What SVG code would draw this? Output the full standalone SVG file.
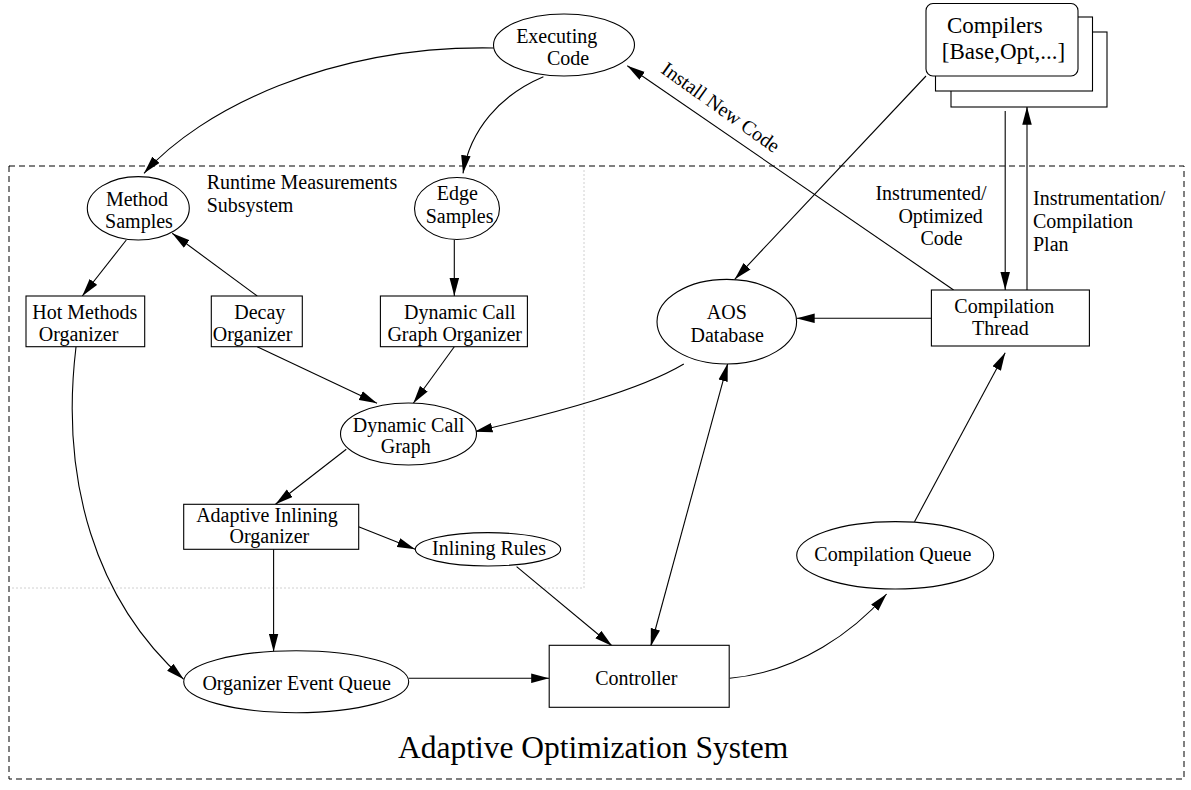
<svg xmlns="http://www.w3.org/2000/svg" width="1191" height="790" viewBox="0 0 1191 790">
<defs>
<marker id="ah" markerUnits="userSpaceOnUse" markerWidth="18" markerHeight="10" refX="18" refY="5" orient="auto-start-reverse">
<path d="M0,0.25 L18,5 L0,9.75 z" fill="#000"/>
</marker>
<style>
text{font-family:"Liberation Serif","Times New Roman",serif;font-size:20px;fill:#000}
.m{text-anchor:middle}
.n{fill:#fff;stroke:#000;stroke-width:1.1}
.e{fill:none;stroke:#000;stroke-width:1.1;marker-end:url(#ah)}
</style>
</defs>
<rect width="1191" height="790" fill="#fff"/>
<g id="frames">
<path d="M584,170 V588 H11" fill="none" stroke="#d0d0d0" stroke-width="1" stroke-dasharray="2 2"/>
<rect x="9" y="166" width="1175" height="613" fill="none" stroke="#000" stroke-width="1" stroke-dasharray="6 4"/>
<text x="206.7" y="189.3">Runtime Measurements</text>
<text x="206.7" y="211.7">Subsystem</text>
<text x="398" y="757.7" style="font-size:31.5px">Adaptive Optimization System</text>
</g>
<g id="connectors">
<path class="e" d="M494,48 C330,45 200,110 144,173.3"/>
<path class="e" d="M543.4,76.7 C500,95 470,130 463,173.3"/>
<path class="e" d="M126.3,240 L82.3,296"/>
<path class="e" d="M257.2,296 L172.2,233.3"/>
<path class="e" d="M454.3,240 L454.3,296"/>
<path class="e" d="M257.2,346.7 L377,403.3"/>
<path class="e" d="M454.3,346.7 L413.3,403.3"/>
<path class="e" d="M76,347 C60,480 95,600 183.7,679.3"/>
<path class="e" d="M683.8,364 C640,390 560,412 474.5,431.7"/>
<path class="e" d="M346.3,449.3 L275.5,504.3"/>
<path class="e" d="M358.6,526.7 L415.2,549.3"/>
<path class="e" d="M273.6,549.3 L273.6,651.7"/>
<path class="e" d="M408.7,678.3 L549.2,678.3"/>
<path class="e" d="M516.6,566.7 L612.2,646"/>
<path class="e" d="M727.8,363.3 L650.7,646.5" style="marker-start:url(#ah)"/>
<path class="e" d="M729.7,678.3 C800,672 855,630 886.6,594"/>
<path class="e" d="M914.5,521.7 L1005.2,352.7"/>
<path class="e" d="M931.4,318.3 L796.7,318.3"/>
<path class="e" d="M926,76 L734.7,279.3"/>
<path class="e" d="M953.6,290 L627.3,65.7"/>
<path class="e" d="M1005.2,111 L1005.2,290"/>
<path class="e" d="M1027,290 L1027,106.7"/>
<text x="660" y="72" transform="rotate(35.6 660 72)">Install New Code</text>
<text class="m" x="931" y="200">Instrumented/</text>
<text class="m" x="940.6" y="222.7">Optimized</text>
<text class="m" x="941.6" y="245">Code</text>
<text x="1033" y="205">Instrumentation/</text>
<text x="1033" y="228.3">Compilation</text>
<text x="1033" y="250.7">Plan</text>
</g>
<g id="executing-code">
<ellipse class="n" cx="564" cy="45" rx="70.5" ry="31"/>
<text class="m" x="556.7" y="43.3">Executing</text>
<text class="m" x="568" y="65">Code</text>
</g>
<g id="compilers">
<rect class="n" x="951" y="32" width="156" height="75"/>
<rect class="n" x="935.5" y="17" width="157" height="74"/>
<rect class="n" x="926" y="3.5" width="152" height="72.5" rx="7"/>
<text class="m" x="994.8" y="33" style="font-size:23px">Compilers</text>
<text class="m" x="1003.5" y="59" style="font-size:23px">[Base,Opt,...]</text>
</g>
<g id="method-samples">
<ellipse class="n" cx="138.3" cy="208.3" rx="51" ry="31.7"/>
<text class="m" x="137" y="206">Method</text>
<text class="m" x="139" y="228.3">Samples</text>
</g>
<g id="edge-samples">
<ellipse class="n" cx="457" cy="208.5" rx="42.5" ry="31"/>
<text class="m" x="457.4" y="200">Edge</text>
<text class="m" x="459.6" y="222.7">Samples</text>
</g>
<g id="hot-methods-organizer">
<rect class="n" x="26" y="296" width="118.7" height="50.7"/>
<text class="m" x="84.8" y="319.3">Hot Methods</text>
<text class="m" x="78.5" y="340.7">Organizer</text>
</g>
<g id="decay-organizer">
<rect class="n" x="211.3" y="296" width="91" height="50.7"/>
<text class="m" x="259.8" y="319.3">Decay</text>
<text class="m" x="252.6" y="340.7">Organizer</text>
</g>
<g id="dcg-organizer">
<rect class="n" x="380.4" y="296" width="147" height="50.7"/>
<text class="m" x="459.8" y="319.3">Dynamic Call</text>
<text class="m" x="454.7" y="340.7">Graph Organizer</text>
</g>
<g id="dynamic-call-graph">
<ellipse class="n" cx="408.5" cy="434" rx="68" ry="31"/>
<text class="m" x="408.6" y="431.7">Dynamic Call</text>
<text class="m" x="405.7" y="453.3">Graph</text>
</g>
<g id="adaptive-inlining-organizer">
<rect class="n" x="183.7" y="504.3" width="175" height="45"/>
<text class="m" x="267" y="521.7">Adaptive Inlining</text>
<text class="m" x="269.4" y="542.7">Organizer</text>
</g>
<g id="inlining-rules">
<ellipse class="n" cx="488" cy="549.3" rx="72.7" ry="16.7"/>
<text class="m" x="489" y="555">Inlining Rules</text>
</g>
<g id="organizer-event-queue">
<ellipse class="n" cx="296.2" cy="681.7" rx="112.5" ry="31"/>
<text class="m" x="296.6" y="690">Organizer Event Queue</text>
</g>
<g id="controller">
<rect class="n" x="549.2" y="645.3" width="180" height="62"/>
<text class="m" x="636.3" y="685">Controller</text>
</g>
<g id="compilation-queue">
<ellipse class="n" cx="895.2" cy="555.3" rx="98.5" ry="33.7"/>
<text class="m" x="892.9" y="560.7">Compilation Queue</text>
</g>
<g id="aos-database">
<ellipse class="n" cx="726.8" cy="321.7" rx="69.8" ry="42.3"/>
<text class="m" x="726.8" y="319.3">AOS</text>
<text class="m" x="727.2" y="341.7">Database</text>
</g>
<g id="compilation-thread">
<rect class="n" x="931.4" y="290" width="158" height="56"/>
<text class="m" x="1004.3" y="313.3">Compilation</text>
<text class="m" x="1000.4" y="335">Thread</text>
</g>
</svg>
